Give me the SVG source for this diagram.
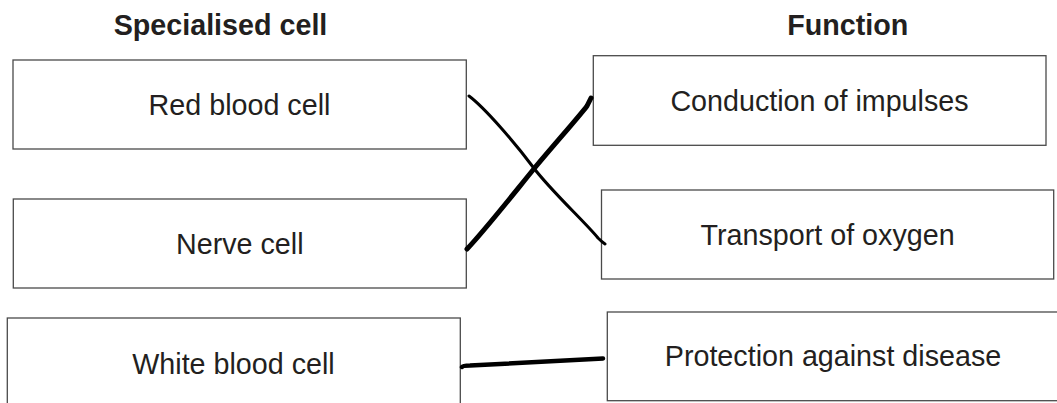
<svg xmlns="http://www.w3.org/2000/svg" width="1057" height="403" viewBox="0 0 1057 403">
<style>
.box{fill:#fff;stroke:#4a4a4a;stroke-width:1.3}
.lbl{font-family:"Liberation Sans",Arial,sans-serif;font-size:28.7px;fill:#231f20;text-anchor:middle}
.hd{font-family:"Liberation Sans",Arial,sans-serif;font-size:28.7px;font-weight:bold;fill:#231f20;text-anchor:middle}
.ln{fill:none;stroke:#000;stroke-linecap:round;stroke-linejoin:round}
</style>
<rect width="1057" height="403" fill="#fff"/>
<text class="hd" x="220.5" y="35">Specialised cell</text>
<text class="hd" x="847.8" y="35">Function</text>
<g id="red-blood-cell"><rect class="box" x="13" y="60" width="453.3" height="89"/><text class="lbl" x="239.5" y="115">Red blood cell</text></g>
<g id="nerve-cell"><rect class="box" x="13.3" y="199" width="453" height="89"/><text class="lbl" x="239.8" y="253.5">Nerve cell</text></g>
<g id="white-blood-cell"><rect class="box" x="7.3" y="318" width="453" height="100"/><text class="lbl" x="233.5" y="374">White blood cell</text></g>
<g id="conduction"><rect class="box" x="593.3" y="55.7" width="452.7" height="89.6"/><text class="lbl" x="819.5" y="110.7">Conduction of impulses</text></g>
<g id="transport"><rect class="box" x="601.5" y="190" width="452.2" height="89"/><text class="lbl" x="827.6" y="245">Transport of oxygen</text></g>
<g id="protection"><rect class="box" x="607.3" y="312" width="452" height="88.7"/><text class="lbl" x="833" y="366">Protection against disease</text></g>
<g id="connectors">
<path class="ln" stroke-width="3" d="M469,96 C485,108 515,143 533,167 S585,222 598,238 Q602,242 605,244"/>
<path class="ln" stroke-width="5" d="M467,249 C485,230 515,192 533,170 S578,118 587,106 L591,98"/>
<path class="ln" stroke-width="4.5" d="M462,367 Q463,365.5 470,365.5 L603,358.5"/>
</g>
</svg>
